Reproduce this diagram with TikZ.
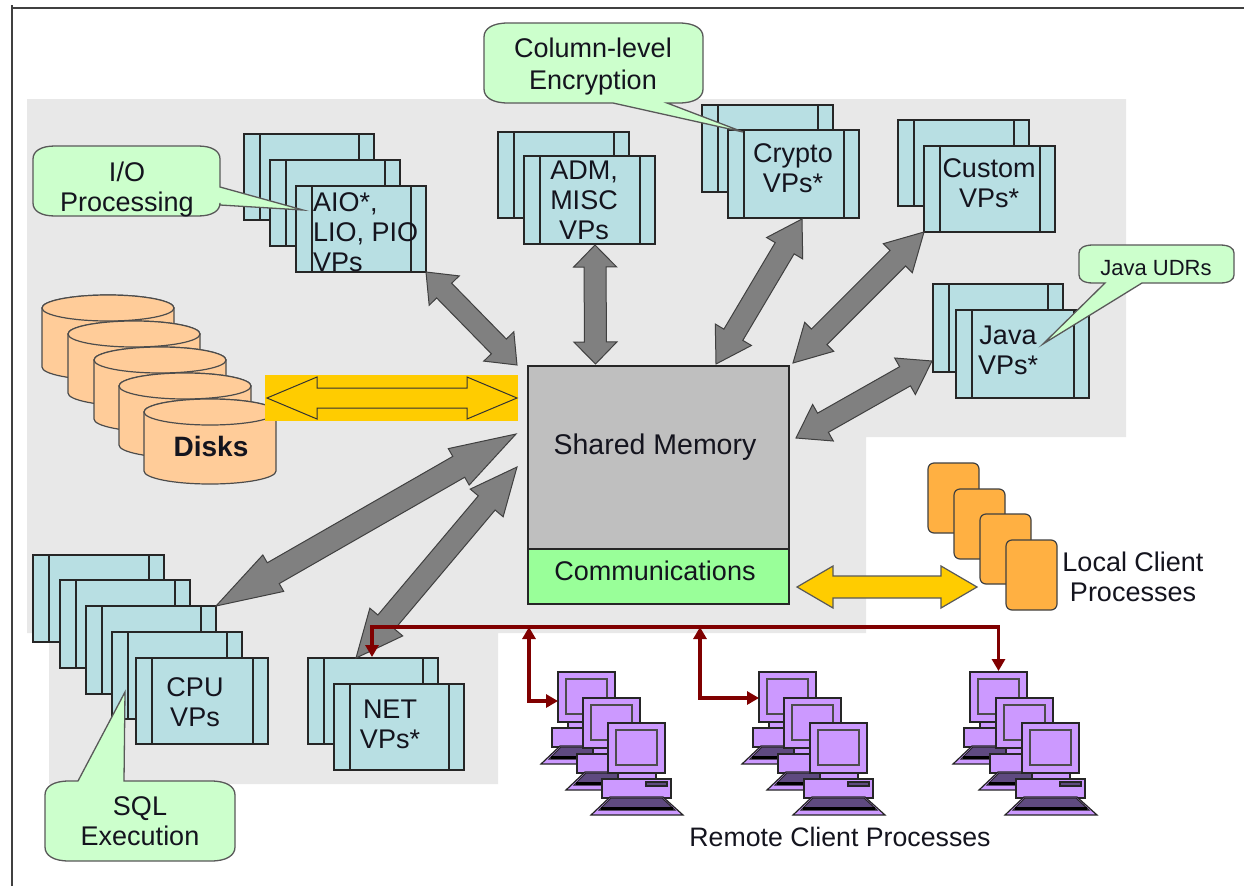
\documentclass[tikz,border=0pt]{standalone}
\usepackage{fontspec}
\setmainfont{Liberation Sans}
\usetikzlibrary{calc,arrows.meta}
\definecolor{bgGray}{HTML}{E8E8E8}
\definecolor{vpFill}{HTML}{B8DFE3}
\definecolor{noteFill}{HTML}{CCFFCC}
\definecolor{diskFill}{HTML}{FFCC99}
\definecolor{goldFill}{HTML}{FFCC00}
\definecolor{procFill}{HTML}{FFB042}
\definecolor{pcFill}{HTML}{CC99FF}
\definecolor{pcDark}{HTML}{5F4A80}
\definecolor{railRed}{HTML}{800000}
\definecolor{inkDark}{HTML}{14141E}
\definecolor{commFill}{HTML}{99FF99}
\tikzset{
  vpbox/.style={draw=black!85,line width=1.8pt,fill=vpFill,rectangle,inner sep=0,outer sep=0,anchor=north west},
  vpline/.style={draw=black!85,line width=1.8pt},
  notebody/.style={draw=black!65,line width=1.3pt,fill=noteFill},
  lbl/.style={font=\fontsize{27}{30}\selectfont,text=inkDark,align=center,inner sep=0,text height=19pt,text depth=0pt},
  blockgray/.style={draw=black!75,line width=1pt,fill=black!50},
  blockgold/.style={draw=black!80,line width=1pt,fill=goldFill},
  blockgoldB/.style={draw=black!65,line width=1.2pt,fill=goldFill},
  diskbody/.style={draw=black!70,line width=1.2pt,fill=diskFill},
  procbox/.style={draw=black!75,line width=1.2pt,fill=procFill,rectangle,rounded corners=6pt,inner sep=0,outer sep=0,anchor=north west,minimum width=51pt,minimum height=70pt},
  pcpart/.style={draw=black!85,line width=1.2pt,fill=pcFill},
  pcmon/.style={draw=black!85,line width=1.4pt,fill=pcFill,rectangle,inner sep=0,outer sep=0,anchor=north west,minimum width=57pt,minimum height=50pt},
  railline/.style={draw=railRed,line width=3.4pt,{Triangle[width=13pt,length=12pt]}-{Triangle[width=13pt,length=12pt]}}
}
% name x1 y1 x2 y2
\newcommand{\vpstack}[5]{%
  \node[vpbox,minimum width={(#4-#2)*1pt},minimum height={(#5-#3)*1pt}] (#1) at (#2,#3) {};
  \draw[vpline] ([xshift=16pt]#1.north west) -- ([xshift=16pt]#1.south west);
  \draw[vpline] ([xshift=-15pt]#1.north east) -- ([xshift=-15pt]#1.south east);
}
% x1 y1 x2 y2 rx ry, then tail pieces on top, right, bottom edges
\newcommand{\notebubble}[9]{%
  \def\noteT{#7}\def\noteR{#8}\def\noteB{#9}%
  \draw[notebody] ({#1+#5},#2) \noteT -- ({#3-#5},#2)
    .. controls ({#3-#5*0.35},#2) and (#3,{#2+#6*0.4}) .. (#3,{#2+#6})
    \noteR -- (#3,{#4-#6})
    .. controls (#3,{#4-#6*0.4}) and ({#3-#5*0.35},#4) .. ({#3-#5},#4)
    \noteB -- ({#1+#5},#4)
    .. controls ({#1+#5*0.35},#4) and (#1,{#4-#6*0.4}) .. (#1,{#4-#6})
    -- (#1,{#2+#6})
    .. controls (#1,{#2+#6*0.4}) and ({#1+#5*0.35},#2) .. ({#1+#5},#2) -- cycle;
}
% [style] A B shaftHalf headHalf headLen
\newcommand{\blockarrow}[6][blockgray]{%
  \coordinate (ca) at ($(#2)!#6!(#3)$);
  \coordinate (cb) at ($(#3)!#6!(#2)$);
  \draw[#1] (#2) -- ($(ca)!#5!90:(#3)$) -- ($(ca)!#4!90:(#3)$)
    -- ($(cb)!#4!-90:(#2)$) -- ($(cb)!#5!-90:(#2)$) -- (#3)
    -- ($(cb)!#5!90:(#2)$) -- ($(cb)!#4!90:(#2)$)
    -- ($(ca)!#4!-90:(#3)$) -- ($(ca)!#5!-90:(#3)$) -- cycle;
}
% x cy
\newcommand{\diskcyl}[2]{%
  \draw[diskbody] (#1,#2) -- (#1,{#2+59}) arc[start angle=180,end angle=360,x radius=66pt,y radius=13pt]
     -- ({#1+132},#2) arc[start angle=0,end angle=180,x radius=66pt,y radius=13pt] -- cycle;
  \draw[diskbody] ({#1+66},#2) ellipse[x radius=66pt,y radius=13pt];
}
% name x y
\newcommand{\pcunit}[3]{%
  \begin{scope}[shift={(#2,#3)}]
    \draw[pcpart] (10,48) rectangle (48,57);
    \draw[pcpart] (-6,56) rectangle (63,75);
    \draw[pcpart,fill=pcDark] (38,59) rectangle (59,63);
    \draw[pcpart] (2,74) -- (55,74) -- (75,92) -- (-17,92) -- cycle;
    \draw[draw=black!85,line width=1pt,fill=pcDark] (3,75) -- (54,75) -- (67,87) -- (-9,87) -- cycle;
    \draw[draw=black,line width=3pt] (-7,85) -- (65,85);
    \node[pcmon] (#1) at (0,0) {};
    \draw[pcpart,line width=2pt,draw=black!70] (8,7) rectangle (49,42);
  \end{scope}
}
\begin{document}
\begin{tikzpicture}[x=1pt,y=-1pt]
\useasboundingbox (0,0) rectangle (1244,886);
\fill[white] (0,0) rectangle (1244,886);
% frame
\coordinate (frameBL) at (12,886);
\coordinate (frameTL) at (12,8);
\coordinate (frameTR) at (1244,8);
\draw[black!75,line width=2pt] (frameBL) -- (frameTL) -- (frameTR);
\draw[black!75,line width=2pt] (12,8) -- (12,5);
% gray region
\fill[bgGray] (27,99) -- (1126,99) -- (1126,437) -- (866,437) -- (866,633) -- (498,633) -- (498,784) -- (49,784) -- (49,633) -- (27,633) -- cycle;
% VP stacks
\vpstack{ioA}{244}{134}{374}{220}
\vpstack{ioB}{270}{160}{400}{246}
\vpstack{ioC}{296}{186}{426}{272}
\vpstack{admA}{498}{132}{629}{218}
\vpstack{admB}{524}{156}{655}{244}
\vpstack{cryA}{702}{105}{833}{192}
\vpstack{cryB}{728}{130}{859}{218}
\vpstack{cusA}{898}{120}{1029}{206}
\vpstack{cusB}{924}{146}{1055}{232}
\vpstack{javA}{933}{284}{1063}{372}
\vpstack{javB}{956}{310}{1089}{398}
\vpstack{cpuA}{33}{555}{164}{642}
\vpstack{cpuB}{60}{580}{190}{668}
\vpstack{cpuC}{86}{606}{216}{694}
\vpstack{cpuD}{112}{632}{242}{719}
\vpstack{cpuE}{136}{658}{268}{744}
\vpstack{netA}{308}{658}{438}{744}
\vpstack{netB}{334}{684}{464}{770}
% disks
\diskcyl{42}{308}
\diskcyl{68}{334}
\diskcyl{94}{360}
\diskcyl{119}{386}
\diskcyl{144}{412}
% shared memory
\node[draw=black!85,line width=1.6pt,fill=black!25,inner sep=0,outer sep=0,anchor=north west,minimum width=261pt,minimum height=183pt] (mem) at (528,366) {};
\node[draw=black!85,line width=1.6pt,fill=commFill,inner sep=0,outer sep=0,anchor=north west,minimum width=261pt,minimum height=55pt] (comm) at (528,549) {};
% block arrows
\coordinate (memIO) at ($(mem.north west)+(-11,-1)$);
\coordinate (memAD) at ($(mem.north)+(-63,-2)$);
\coordinate (memCR) at ($(mem.north east)+(-73,-2)$);
\coordinate (memCU) at ($(mem.north east)+(4,-3)$);
\coordinate (memJA) at ($(mem.north east)+(7,72)$);
\coordinate (memCP) at ($(mem.north west)+(-12,68)$);
\coordinate (memNE) at ($(mem.north west)+(-11,101)$);
\coordinate (cpuTip) at (cpuC.north east);
\coordinate (netTip) at ($(netA.north west)+(48,0)$);
\coordinate (admTip) at ($(admB.south west)+(71,1)$);
\coordinate (cryTip) at ($(cryB.south west)+(74,1)$);
\coordinate (javTip) at ($(javA.north west)+(-1,77)$);
\blockarrow{ioC.south east}{memIO}{10.5pt}{21pt}{26pt}
\blockarrow{admTip}{memAD}{11pt}{21.5pt}{22pt}
\blockarrow{cryTip}{memCR}{11pt}{21pt}{34pt}
\blockarrow{cusB.south west}{memCU}{11pt}{20.5pt}{37pt}
\blockarrow{javTip}{memJA}{11pt}{21pt}{31pt}
\blockarrow{cpuTip}{memCP}{12pt}{21pt}{66pt}
\blockarrow{netTip}{memNE}{11pt}{21.5pt}{47pt}
% disk link
\node[fill=goldFill,inner sep=0,outer sep=0,anchor=north west,minimum width=253pt,minimum height=46pt] (diskBand) at (265,375) {};
\coordinate (bandL) at ($(diskBand.west)+(2,0)$);
\coordinate (bandR) at ($(diskBand.east)+(-1,0)$);
\blockarrow[blockgold]{bandL}{bandR}{10pt}{21pt}{50pt}
% local processes
\node[procbox] (procA) at (928,463) {};
\node[procbox] (procB) at (954,489) {};
\node[procbox] (procC) at (980,514) {};
\node[procbox] (procD) at (1006,540) {};
\coordinate (commEnd) at ($(comm.east)+(8,10.5)$);
\coordinate (procEnd) at ($(procC.south west)+(-3,3)$);
\blockarrow[blockgoldB]{commEnd}{procEnd}{11pt}{21pt}{36pt}
% remote computers
\pcunit{pcA}{558}{672}
\pcunit{pcB}{583}{698}
\pcunit{pcC}{608}{723}
\pcunit{pcD}{759}{672}
\pcunit{pcE}{784}{698}
\pcunit{pcF}{810}{723}
\pcunit{pcG}{970}{672}
\pcunit{pcH}{996}{698}
\pcunit{pcI}{1022}{723}
% rail
\coordinate (netIn) at (372,657);
\coordinate (railRef) at (372,627);
\coordinate (railA) at (529,627);
\coordinate (railB) at (700,627);
\draw[railline] (netIn) -- (railRef) -| ([yshift=1pt]pcG.north);
\draw[railline] (railA) |- ([yshift=-4pt]pcA.west);
\draw[railline] (railB) |- ([yshift=-1pt]pcD.west);
% callouts
\coordinate (ioTipN) at (303,210);
\coordinate (crTipN) at (743,132);
\coordinate (jaTipN) at (1043,344);
\coordinate (sqTipN) at (125,692);
\notebubble{33}{146}{220}{216}{22}{13}{}{-- (220,187) -- (ioTipN) -- (220,205)}{}
\notebubble{484}{23}{703}{103}{24}{14}{}{}{-- (667,103) -- (crTipN) -- (613,103)}
\notebubble{1079}{245}{1234}{283}{14}{8}{}{}{-- (1142,283) -- (jaTipN) -- (1105,283)}
\notebubble{45}{781}{235}{861}{24}{14}{-- (78,781) -- (sqTipN) -- (124,781)}{}{}
% texts (the node centre sits on the last line's capitals)
\node[lbl] (tIO) at (127,202) {I/O\\Processing};
\node[lbl,align=left,anchor=west] (tAIO) at (313,262) {AIO*,\\LIO, PIO\\VPs};
\node[lbl] (tADM) at (584,230) {ADM,\\MISC\\VPs};
\node[lbl] (tCry) at (793,183) {Crypto\\VPs*};
\node[lbl] (tCus) at (989,198) {Custom\\VPs*};
\node[lbl] (tJav) at (1008,365) {Java\\VPs*};
\node[lbl] (tCol) at (593,80) {Column-level\\[2pt]Encryption};
\node[lbl,font=\fontsize{22}{26}\selectfont,text height=16pt] (tUDR) at (1156,267) {Java UDRs};
\node[lbl] (tCPU) at (195,717) {CPU\\VPs};
\node[lbl] (tNET) at (390,739) {NET\\VPs*};
\node[lbl] (tSQL) at (140,836) {SQL\\Execution};
\node[lbl,font=\bfseries\fontsize{28}{32}\selectfont,text height=20pt] (tDisk) at (211,446) {Disks};
\node[lbl,font=\fontsize{28.5}{32}\selectfont,text height=20pt] (tMem) at (655,444) {Shared Memory};
\node[lbl,font=\fontsize{27}{30}\selectfont] (tComm) at (655,571) {Communications};
\node[lbl] (tLoc) at (1133,592) {Local Client\\Processes};
\node[lbl,font=\fontsize{26.7}{30}\selectfont] (tRem) at (840,837) {Remote Client Processes};
\end{tikzpicture}
\end{document}
